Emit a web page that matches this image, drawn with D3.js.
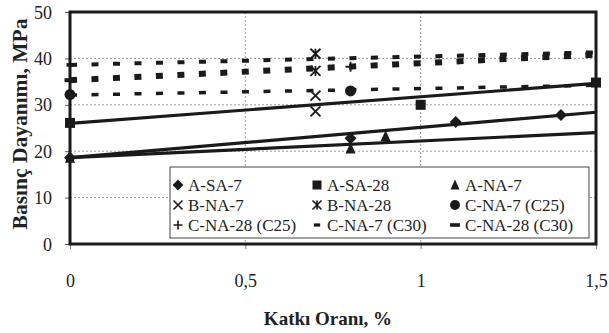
<!DOCTYPE html>
<html>
<head>
<meta charset="utf-8">
<script src="https://cdn.jsdelivr.net/npm/d3@7"></script>
<style>
  html, body { margin: 0; padding: 0; background: #fff; overflow: hidden; }
  svg { display: block; }
  text { font-family: "Liberation Serif", "Times New Roman", serif; fill: #222; }
</style>
</head>
<body>
<svg id="chart" width="609" height="333"></svg>
<script>
// series values (x = katkı oranı %, y = MPa)
const aSa7 = [[0, 18.6], [0.8, 22.8], [1.1, 26.3], [1.4, 27.8]];
const aSa28 = [[0, 26.1], [1.0, 30.0], [1.5, 34.8]];
const aNa7 = [[0, 18.6], [0.8, 20.6], [0.9, 23.2]];
const bNa7 = [[0.7, 32.0], [0.7, 28.6]];
const bNa28 = [[0.7, 41.0], [0.7, 37.3]];
const cNa7C25 = [[0, 32.2], [0.8, 33.0]];
const cNa28C25 = [[0.8, 38.2]];
const cNa7C30 = [[0, 38.6]];
const cNa28C30 = [[0, 35.3]];

// trend lines: [y at x=0, y at x=1.5]
const trendX = [0, 1.5];
const solidTrends = [[26.0, 34.6], [18.6, 28.4], [18.6, 24.0]];
const dottedTrends = [[38.6, 41.3], [35.3, 40.8], [32.1, 34.2]];
const dottedWidths = [4, 6, 3.5];

const yTicks = [0, 10, 20, 30, 40, 50];
const xTicks = [0, 0.5, 1, 1.5];

const series = [
    { name: "A-SA-7", shape: "diamond", data: aSa7 },
    { name: "A-SA-28", shape: "square", data: aSa28 },
    { name: "A-NA-7", shape: "triangle", data: aNa7 },
    { name: "B-NA-7", shape: "cross", data: bNa7 },
    { name: "B-NA-28", shape: "star", data: bNa28 },
    { name: "C-NA-7 (C25)", shape: "circle", data: cNa7C25 },
    { name: "C-NA-28 (C25)", shape: "plus", data: cNa28C25 },
    { name: "C-NA-7 (C30)", shape: "dash", data: cNa7C30 },
    { name: "C-NA-28 (C30)", shape: "longdash", data: cNa28C30 }
];

const svg = d3.select("#chart");
const margin = { top: 12, right: 13, bottom: 89, left: 70 };
const width = 609, height = 333;
const innerWidth = width - margin.left - margin.right;
const innerHeight = height - margin.top - margin.bottom;

const x = d3.scaleLinear().domain([0, 1.5]).range([0, innerWidth]);
const y = d3.scaleLinear().domain([0, 50]).range([innerHeight, 0]);

const ink = "#1a1a1a";
const g = svg.append("g").attr("transform", `translate(${margin.left},${margin.top})`);

// gridlines
g.append("g")
    .selectAll("line")
    .data(yTicks.filter(d => d > 0 && d < 50))
    .enter().append("line")
    .attr("x1", 0).attr("x2", innerWidth)
    .attr("y1", d => y(d)).attr("y2", d => y(d))
    .attr("stroke", "#999").attr("stroke-width", 1).attr("stroke-dasharray", "2,2");
g.append("g")
    .selectAll("line")
    .data(xTicks.filter(d => d > 0 && d < 1.5))
    .enter().append("line")
    .attr("x1", d => x(d)).attr("x2", d => x(d))
    .attr("y1", 0).attr("y2", innerHeight)
    .attr("stroke", "#999").attr("stroke-width", 1).attr("stroke-dasharray", "2,2");

// axes
const yAxisG = g.append("g")
    .call(d3.axisLeft(y).tickValues(yTicks).tickSize(5).tickPadding(13))
    .attr("font-family", null).attr("font-size", null).attr("fill", null);
yAxisG.select(".domain").remove();
yAxisG.selectAll("line").attr("stroke", "#555");
yAxisG.selectAll("text")
    .attr("dy", null).attr("y", 6)
    .attr("font-size", "18px").attr("fill", "#333");

const xAxisG = g.append("g")
    .attr("transform", `translate(0,${innerHeight})`)
    .call(d3.axisBottom(x).tickValues(xTicks).tickSize(5).tickPadding(26)
        .tickFormat(d => String(d).replace(".", ",")))
    .attr("font-family", null).attr("font-size", null).attr("fill", null);
xAxisG.select(".domain").remove();
xAxisG.selectAll("line").attr("stroke", "#777");
xAxisG.selectAll("text")
    .attr("dy", null).attr("y", 43)
    .attr("font-size", "18px").attr("fill", "#333");

// dotted trend lines
const line = d3.line().x(d => x(d[0])).y(d => y(d[1]));
dottedTrends.forEach((t, i) => {
    g.append("path")
        .datum([[trendX[0], t[0]], [trendX[1], t[1]]])
        .attr("d", line)
        .attr("fill", "none")
        .attr("stroke", ink)
        .attr("stroke-width", dottedWidths[i])
        .attr("stroke-dasharray", "7,14.5");
});

// solid trend lines
solidTrends.forEach(t => {
    g.append("path")
        .datum([[trendX[0], t[0]], [trendX[1], t[1]]])
        .attr("d", line)
        .attr("fill", "none")
        .attr("stroke", ink)
        .attr("stroke-width", 3.2);
});

// marker drawing
const drawMarker = (sel, shape) => {
    const s = 5;
    if (shape === "diamond") {
        sel.append("path").attr("d", `M0,${-s - 1}L${s + 1},0L0,${s + 1}L${-s - 1},0Z`).attr("fill", ink);
    } else if (shape === "square") {
        sel.append("rect").attr("x", -s).attr("y", -s).attr("width", 2 * s).attr("height", 2 * s).attr("fill", ink);
    } else if (shape === "triangle") {
        sel.append("path").attr("d", `M0,${-s - 1}L${s},${s}L${-s},${s}Z`).attr("fill", ink);
    } else if (shape === "circle") {
        sel.append("circle").attr("r", s + 0.5).attr("fill", ink);
    } else if (shape === "cross") {
        sel.append("path").attr("d", `M${-s},${-s}L${s},${s}M${s},${-s}L${-s},${s}`)
            .attr("stroke", ink).attr("stroke-width", 1.8).attr("fill", "none");
    } else if (shape === "star") {
        sel.append("path").attr("d", `M${-s},${-s}L${s},${s}M${s},${-s}L${-s},${s}M0,${-s}L0,${s}`)
            .attr("stroke", ink).attr("stroke-width", 1.8).attr("fill", "none");
    } else if (shape === "plus") {
        sel.append("path").attr("d", `M${-s},0L${s},0M0,${-s}L0,${s}`)
            .attr("stroke", ink).attr("stroke-width", 1.8).attr("fill", "none");
    } else if (shape === "dash") {
        sel.append("rect").attr("x", -3.5).attr("y", -1.8).attr("width", 7).attr("height", 3.6).attr("fill", ink);
    } else if (shape === "longdash") {
        sel.append("rect").attr("x", -5.5).attr("y", -2).attr("width", 11).attr("height", 4).attr("fill", ink);
    }
};

series.forEach(sr => {
    g.append("g").selectAll("g")
        .data(sr.data)
        .enter().append("g")
        .attr("transform", d => `translate(${x(d[0])},${y(d[1])})`)
        .each(function () { drawMarker(d3.select(this), sr.shape); });
});

// plot frame
g.append("rect")
    .attr("x", 0).attr("y", 0)
    .attr("width", innerWidth).attr("height", innerHeight)
    .attr("fill", "none").attr("stroke", ink).attr("stroke-width", 3);

// legend (drawn at svg level, on top of the plot)
const legendG = svg.append("g").attr("transform", "translate(170,167)");
legendG.append("rect")
    .attr("width", 419).attr("height", 71)
    .attr("fill", "#fff").attr("stroke", "#444").attr("stroke-width", 1);
const colX = [8, 147, 285];
const rowY = [18, 38, 58];
series.forEach((sr, i) => {
    const col = i % 3, row = Math.floor(i / 3);
    const m = legendG.append("g")
        .attr("transform", `translate(${colX[col]},${rowY[row]}) scale(0.9)`);
    drawMarker(m, sr.shape);
    legendG.append("text")
        .attr("x", colX[col] + 10).attr("y", rowY[row] + 6)
        .attr("font-size", "17px")
        .text(sr.name);
});

// axis titles
svg.append("text")
    .attr("transform", `translate(27,124) rotate(-90)`)
    .attr("text-anchor", "middle")
    .attr("font-size", "21.5px").attr("font-weight", "bold")
    .text("Basınç Dayanımı, MPa");

svg.append("text")
    .attr("x", 328).attr("y", 325)
    .attr("text-anchor", "middle")
    .attr("font-size", "19px").attr("font-weight", "bold")
    .text("Katkı Oranı, %");
</script>
</body>
</html>
